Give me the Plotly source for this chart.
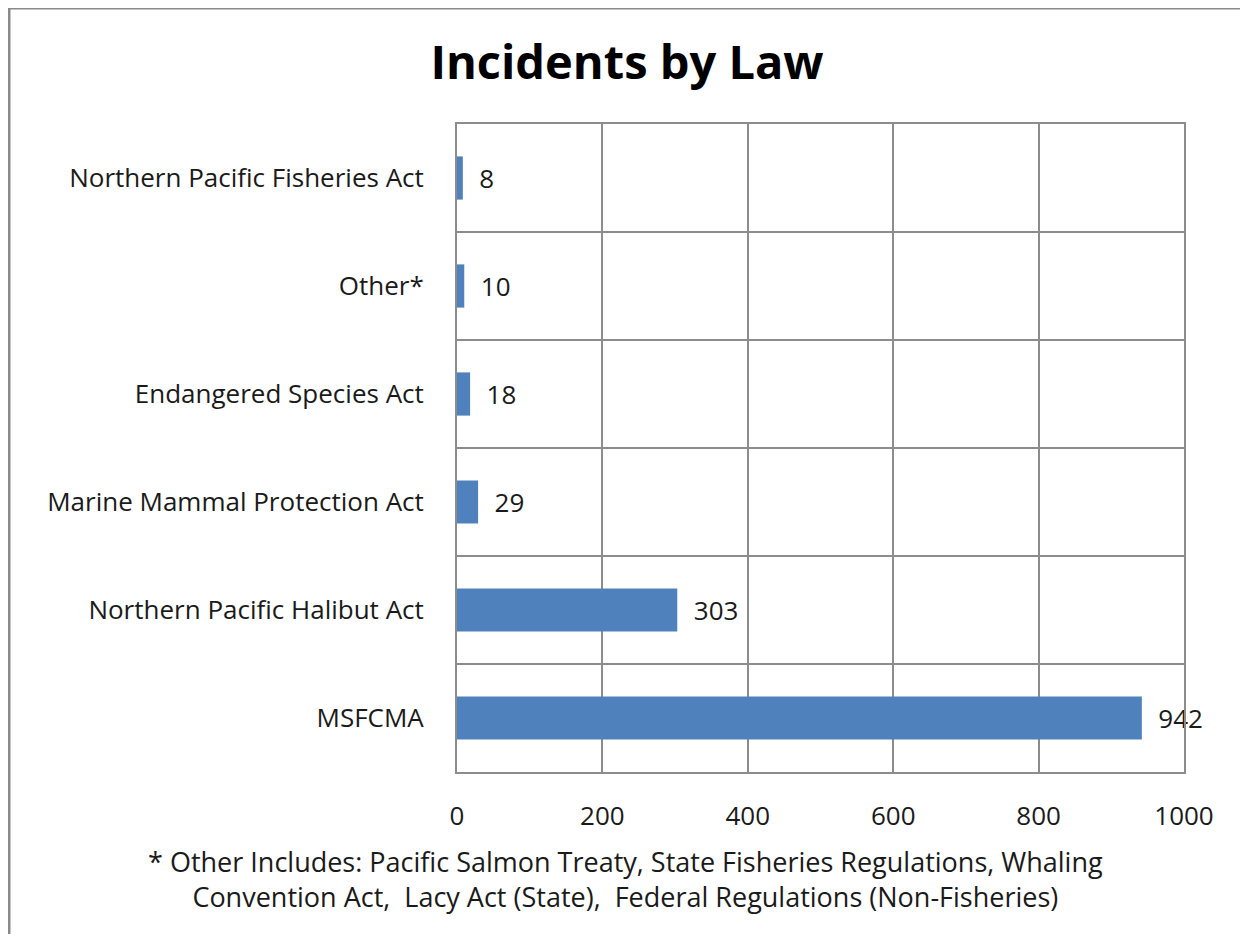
import plotly.graph_objects as go

# data (bottom to top)
laws = ['MSFCMA', 'Northern Pacific Halibut Act', 'Marine Mammal Protection Act',
        'Endangered Species Act', 'Other*', 'Northern Pacific Fisheries Act']
incidents = [942, 303, 29, 18, 10, 8]
x_ticks = [0, 200, 400, 600, 800, 1000]

BAR = '#4F81BD'
GRID = '#8c8c8c'
FONT = 'Open Sans, sans-serif'

# page body has an 8px margin, so the figure is a bit smaller than the window
W, H = 1232, 926
L, R, T, B = 449, 1176, 116, 764


def px_x(p):
    return (p - L) / (R - L)


def px_y(p):
    return (B - p) / (B - T)


fig = go.Figure(go.Bar(
    x=incidents,
    y=laws,
    orientation='h',
    marker=dict(color=BAR, line=dict(width=0)),
    text=['\u00a0\u00a0' + str(v) for v in incidents],
    textposition='outside',
    textfont=dict(family=FONT, size=26, color='#1a1a1a'),
    cliponaxis=False,
))

fig.update_layout(
    width=W,
    height=H,
    title=dict(text='<b>Incidents by Law</b>', x=px_x(619), xref='paper', xanchor='center',
               y=1 - 55 / H, yanchor='middle',
               font=dict(family=FONT, size=47, color='#000000')),
    font=dict(family=FONT, size=26, color='#1a1a1a'),
    plot_bgcolor='white',
    paper_bgcolor='white',
    bargap=0.6,
    showlegend=False,
    margin=dict(l=L, r=W - R, t=T, b=H - B, pad=0),
    xaxis=dict(range=[0, 1000], tickvals=x_ticks, showgrid=True, gridcolor=GRID, gridwidth=2,
               showline=True, linecolor=GRID, linewidth=2, mirror=True, zeroline=False,
               ticks='', ticklabelstandoff=20, tickfont=dict(size=26)),
    yaxis=dict(type='category', tickson='boundaries', showgrid=True, gridcolor=GRID, gridwidth=2,
               showline=True, linecolor=GRID, linewidth=2, mirror=True, ticks='',
               ticklabelstandoff=26, tickfont=dict(size=26)),
    annotations=[dict(
        text='* Other Includes: Pacific Salmon Treaty, State Fisheries Regulations, Whaling<br>'
             'Convention Act,  Lacy Act (State),  Federal Regulations (Non-Fisheries)',
        xref='paper', yref='paper', x=px_x(617), y=px_y(871), xanchor='center', yanchor='middle',
        showarrow=False, align='center', font=dict(family=FONT, size=27, color='#1a1a1a'))],
    shapes=[
        dict(type='line', xref='paper', yref='paper', x0=px_x(1), x1=px_x(1260),
             y0=px_y(0), y1=px_y(0), line=dict(color='#8a8a8a', width=3)),
        dict(type='line', xref='paper', yref='paper', x0=px_x(1), x1=px_x(1),
             y0=px_y(0), y1=px_y(960), line=dict(color='#8a8a8a', width=3)),
    ],
)

fig.write_html('out.html')
